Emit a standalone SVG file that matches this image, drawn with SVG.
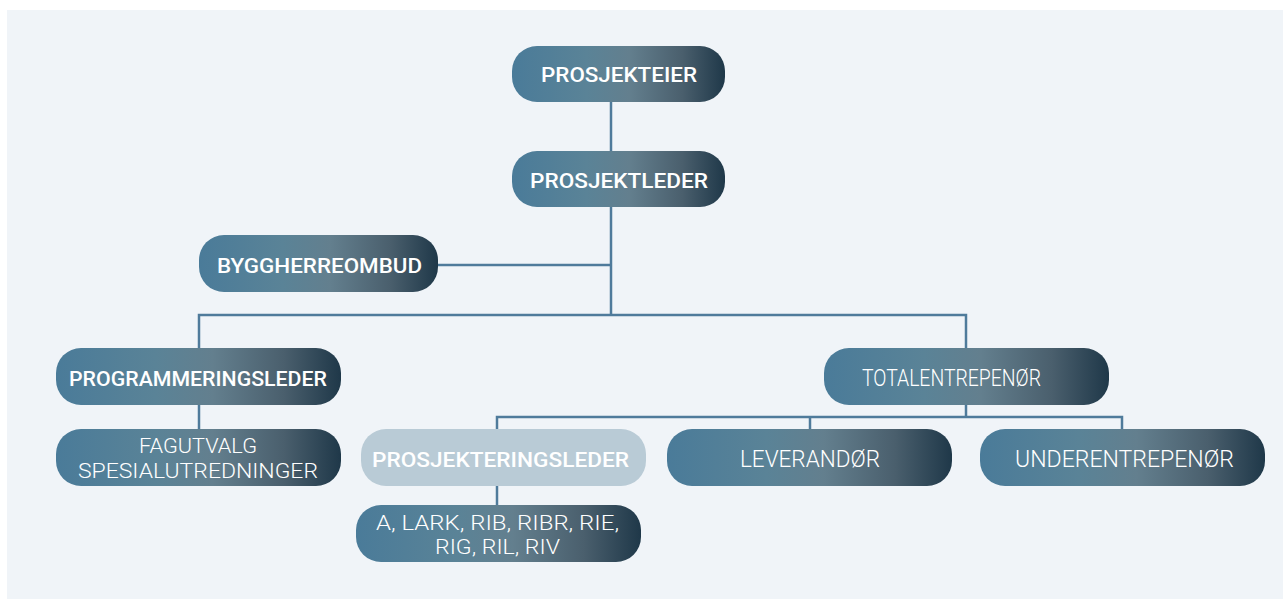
<svg xmlns="http://www.w3.org/2000/svg" width="1283" height="599" viewBox="0 0 1283 599">
<defs>
<linearGradient id="g" x1="0" y1="0" x2="1" y2="0">
<stop offset="0" stop-color="#4a7b99"/>
<stop offset="0.35" stop-color="#5a8397"/>
<stop offset="0.55" stop-color="#637f8e"/>
<stop offset="0.8" stop-color="#4a5f6d"/>
<stop offset="1" stop-color="#1f3849"/>
</linearGradient>
<style>
.n{fill:url(#g)}
.l{fill:#b9cbd6}
.b{font-family:Roboto,"Liberation Sans",sans-serif;font-weight:500;font-size:21px;fill:#ffffff;text-anchor:middle}
.t{font-family:Roboto,"Liberation Sans",sans-serif;font-weight:300;font-size:23px;fill:#ffffff;text-anchor:middle}
.m{font-size:21px}
.c{fill:none;stroke:#4f7b9b;stroke-width:2.5}
</style>
</defs>
<rect x="0" y="0" width="1283" height="599" fill="#ffffff"/>
<rect x="7" y="10" width="1276" height="589" fill="#f0f4f8"/>
<g id="connectors">
<path class="c" d="M611 102V151M611 207V315M438 265H611M199 348V315H966V348M199 405V429M966 405V417M497 429V417H1122V429M810 417V429M497 486V505"/>
</g>
<g id="prosjekteier"><rect class="n" x="512" y="46" width="213" height="56" rx="25"/><text class="b" x="619" y="82" textLength="156" lengthAdjust="spacingAndGlyphs">PROSJEKTEIER</text></g>
<g id="prosjektleder"><rect class="n" x="512" y="151" width="213" height="56" rx="25"/><text class="b" x="619" y="188" textLength="178" lengthAdjust="spacingAndGlyphs">PROSJEKTLEDER</text></g>
<g id="byggherreombud"><rect class="n" x="199" y="235" width="239" height="57" rx="25"/><text class="b" x="319.5" y="273" textLength="205" lengthAdjust="spacingAndGlyphs">BYGGHERREOMBUD</text></g>
<g id="programmeringsleder"><rect class="n" x="56" y="348" width="285" height="57" rx="25"/><text class="b" x="198" y="386" textLength="258" lengthAdjust="spacingAndGlyphs">PROGRAMMERINGSLEDER</text></g>
<g id="fagutvalg"><rect class="n" x="56" y="429" width="285" height="57" rx="25"/><text class="t m" x="198" y="453" textLength="118" lengthAdjust="spacingAndGlyphs">FAGUTVALG</text><text class="t m" x="198" y="478" textLength="240" lengthAdjust="spacingAndGlyphs">SPESIALUTREDNINGER</text></g>
<g id="prosjekteringsleder"><rect class="l" x="361" y="429" width="285" height="57" rx="25"/><text class="b" x="500.5" y="467" textLength="257" lengthAdjust="spacingAndGlyphs">PROSJEKTERINGSLEDER</text></g>
<g id="fag"><rect class="n" x="356" y="505" width="285" height="57" rx="25"/><text class="t m" x="497.5" y="530" textLength="243" lengthAdjust="spacingAndGlyphs">A, LARK, RIB, RIBR, RIE,</text><text class="t m" x="497.5" y="554" textLength="125" lengthAdjust="spacingAndGlyphs">RIG, RIL, RIV</text></g>
<g id="totalentreprenor"><rect class="n" x="824" y="348" width="285" height="57" rx="25"/><text class="t" x="951.5" y="386" textLength="179" lengthAdjust="spacingAndGlyphs">TOTALENTREPENØR</text></g>
<g id="leverandor"><rect class="n" x="667" y="429" width="285" height="57" rx="25"/><text class="t" x="810" y="467" textLength="140" lengthAdjust="spacingAndGlyphs">LEVERANDØR</text></g>
<g id="underentreprenor"><rect class="n" x="980" y="429" width="285" height="57" rx="25"/><text class="t" x="1124.5" y="467" textLength="219" lengthAdjust="spacingAndGlyphs">UNDERENTREPENØR</text></g>
</svg>
